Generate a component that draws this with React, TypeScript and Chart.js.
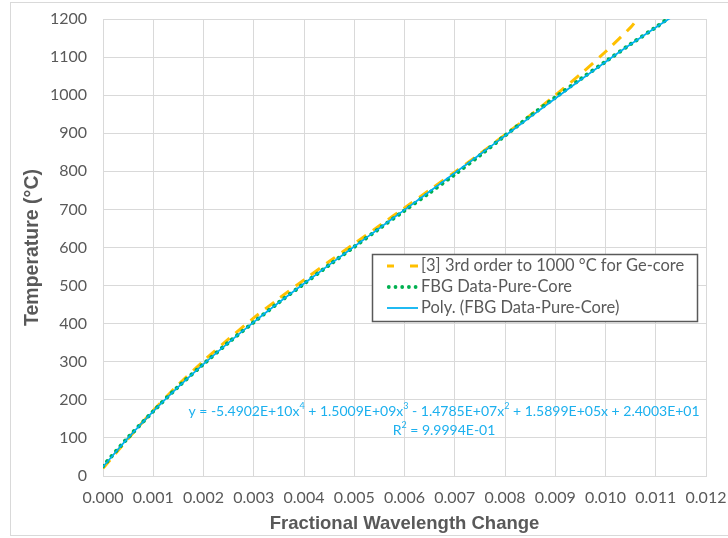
import React, { useEffect, useRef } from "react";
import { Chart, registerables } from "chart.js";

Chart.register(...registerables);

// ---------- data ----------
const SERIES_NAMES = [
  "[3] 3rd order to 1000 °C for Ge-core",
  "FBG Data-Pure-Core",
  "Poly. (FBG Data-Pure-Core)",
];

const GE_X = [0, 0.0005, 0.001, 0.0015, 0.002, 0.0025, 0.003, 0.0035, 0.004, 0.0045, 0.005, 0.0055, 0.006, 0.0065, 0.007, 0.0075, 0.008, 0.0085, 0.009, 0.0095, 0.01, 0.0105, 0.0106];
const GE_Y = [20, 98, 172, 240, 302, 360, 415, 466, 515, 563, 610, 657, 704, 751, 798, 846, 896, 947, 1000, 1055, 1114, 1178, 1194];

const FBG_X = [0, 0.0005, 0.001, 0.0015, 0.002, 0.0025, 0.003, 0.0035, 0.004, 0.0045, 0.005, 0.0055, 0.006, 0.0065, 0.007, 0.0075, 0.008, 0.0085, 0.009, 0.0095, 0.01, 0.0105, 0.011, 0.0112];
const FBG_Y = [26, 101, 170, 235, 294, 351, 404, 456, 505, 554, 602, 650, 697, 744, 792, 842, 894, 945, 994, 1042, 1088, 1134, 1178, 1197];

const POLY_X = [0, 0.0005, 0.001, 0.0015, 0.002, 0.0025, 0.003, 0.0035, 0.004, 0.0045, 0.005, 0.0055, 0.006, 0.0065, 0.007, 0.0075, 0.008, 0.0085, 0.009, 0.0095, 0.01, 0.0105, 0.011, 0.0113];
const POLY_Y = [24.0, 100.0, 169.7, 234.0, 294.0, 350.4, 404.0, 455.5, 505.4, 554.3, 602.6, 650.7, 698.7, 747.0, 795.5, 844.3, 893.3, 942.4, 991.3, 1039.7, 1087.3, 1133.5, 1177.8, 1203.2];

const X_TICKS = [0, 0.001, 0.002, 0.003, 0.004, 0.005, 0.006, 0.007, 0.008, 0.009, 0.01, 0.011, 0.012];
const Y_TICKS = [0, 100, 200, 300, 400, 500, 600, 700, 800, 900, 1000, 1100, 1200];

const X_TITLE = "Fractional Wavelength Change";
const Y_TITLE = "Temperature (°C)";

// equation segments: [text, isSuperscript]
const EQUATION_LINE1: [string, boolean][] = [
  ["y = -5.4902E+10x", false],
  ["4", true],
  [" + 1.5009E+09x", false],
  ["3", true],
  [" - 1.4785E+07x", false],
  ["2", true],
  [" + 1.5899E+05x + 2.4003E+01", false],
];
const EQUATION_LINE2: [string, boolean][] = [
  ["R", false],
  ["2", true],
  [" = 9.9994E-01", false],
];

// ---------- styles ----------
const ORANGE = "#FFC000";
const GREEN = "#00B050";
const BLUE = "#00B0F0";
const EQ_COLOR = "#1CB0EE";
const TEXT = "#595959";
const GRID = "#D9D9D9";
const BASE_FONT = "Lato, 'Open Sans', sans-serif";
const TITLE_FONT = "'Liberation Sans', Arial, sans-serif";

function drawRich(ctx: CanvasRenderingContext2D, segs: [string, boolean][], cx: number, cy: number, size: number, color: string) {
  const base = `${size}px ${BASE_FONT}`;
  const sup = `${Math.round(size * 0.65)}px ${BASE_FONT}`;
  let w = 0;
  for (const [t, s] of segs) {
    ctx.font = s ? sup : base;
    w += ctx.measureText(t).width;
  }
  let x = cx - w / 2;
  ctx.fillStyle = color;
  ctx.textBaseline = "middle";
  ctx.textAlign = "left";
  for (const [t, s] of segs) {
    ctx.font = s ? sup : base;
    ctx.fillText(t, x, s ? cy - size * 0.33 : cy);
    x += ctx.measureText(t).width;
  }
}

const overlayPlugin = {
  id: "overlay",
  afterDraw(chart: any) {
    const ctx: CanvasRenderingContext2D = chart.ctx;
    ctx.save();
    // trendline equation
    drawRich(ctx, EQUATION_LINE1, 444, 411, 14, EQ_COLOR);
    drawRich(ctx, EQUATION_LINE2, 444, 430, 14, EQ_COLOR);

    // legend box
    const bx = 372, by = 254, bw = 325, bh = 67;
    ctx.fillStyle = "#FFFFFF";
    ctx.fillRect(bx, by, bw, bh);
    ctx.strokeStyle = "#595959";
    ctx.lineWidth = 1.5;
    ctx.strokeRect(bx + 0.5, by + 0.5, bw, bh);

    const rows = [266, 287, 308];
    const sx0 = 387, sx1 = 418;
    // orange dashes
    ctx.strokeStyle = ORANGE;
    ctx.lineWidth = 3;
    ctx.lineCap = "butt";
    ctx.beginPath();
    ctx.moveTo(sx0, rows[0]); ctx.lineTo(sx0 + 7, rows[0]);
    ctx.moveTo(sx0 + 23, rows[0]); ctx.lineTo(sx1, rows[0]);
    ctx.stroke();
    // green dots
    ctx.fillStyle = GREEN;
    for (let i = 0; i < 5; i++) {
      ctx.beginPath();
      ctx.arc(sx0 + 1.8 + i * 6.7, rows[1], 1.9, 0, Math.PI * 2);
      ctx.fill();
    }
    // blue line
    ctx.strokeStyle = BLUE;
    ctx.lineWidth = 1.75;
    ctx.beginPath();
    ctx.moveTo(sx0, rows[2]); ctx.lineTo(sx1, rows[2]);
    ctx.stroke();

    ctx.fillStyle = TEXT;
    ctx.font = `16.5px ${BASE_FONT}`;
    ctx.textBaseline = "middle";
    ctx.textAlign = "left";
    SERIES_NAMES.forEach((n, i) => ctx.fillText(n, 421, rows[i]));
    ctx.restore();
  },
};

export default function App() {
  const ref = useRef<HTMLCanvasElement>(null);
  useEffect(() => {
    document.body.style.margin = "0";
    const chart = new Chart(ref.current as HTMLCanvasElement, {
      type: "scatter",
      data: {
        datasets: [
          {
            label: SERIES_NAMES[0],
            data: GE_X.map((x, i) => ({ x, y: GE_Y[i] })),
            showLine: true,
            borderColor: ORANGE,
            borderWidth: 3,
            borderDash: [11, 8],
            pointRadius: 0,
            tension: 0.3,
            order: 3,
          },
          {
            label: SERIES_NAMES[1],
            data: FBG_X.map((x, i) => ({ x, y: FBG_Y[i] })),
            showLine: true,
            borderColor: GREEN,
            borderWidth: 4.2,
            borderDash: [0.01, 6.7],
            borderCapStyle: "round",
            pointRadius: 0,
            tension: 0.3,
            order: 2,
          },
          {
            label: SERIES_NAMES[2],
            data: POLY_X.map((x, i) => ({ x, y: POLY_Y[i] })),
            showLine: true,
            borderColor: BLUE,
            borderWidth: 1.75,
            pointRadius: 0,
            tension: 0.3,
            order: 1,
          },
        ],
      } as any,
      options: {
        responsive: false,
        animation: false,
        devicePixelRatio: 1,
        layout: { padding: { top: 19, right: 22, bottom: 0, left: 0 } },
        plugins: { legend: { display: false }, tooltip: { enabled: false } },
        scales: {
          x: {
            type: "linear",
            min: 0,
            max: 0.012,
            afterBuildTicks: (s: any) => { s.ticks = X_TICKS.map((v) => ({ value: v })); },
            afterFit: (s: any) => { s.height = 62; s.paddingLeft = 0; s.paddingRight = 0; },
            ticks: {
              callback: (v: any) => Number(v).toFixed(3),
              color: TEXT,
              font: { family: BASE_FONT, size: 16 },
              padding: 12,
              maxRotation: 0,
              autoSkip: false,
            },
            grid: { color: GRID, drawTicks: false, lineWidth: 1 },
            border: { color: GRID },
            title: {
              display: true,
              text: X_TITLE,
              color: TEXT,
              font: { family: TITLE_FONT, size: 18.5, weight: "bold" },
              padding: { top: 0, bottom: 3 },
            },
          },
          y: {
            type: "linear",
            min: 0,
            max: 1200,
            afterBuildTicks: (s: any) => { s.ticks = Y_TICKS.map((v) => ({ value: v })); },
            afterFit: (s: any) => { s.width = 103; s.paddingTop = 0; s.paddingBottom = 0; },
            ticks: {
              callback: (v: any) => String(v),
              color: TEXT,
              font: { family: BASE_FONT, size: 16 },
              padding: 16,
              autoSkip: false,
            },
            grid: { color: GRID, drawTicks: false, lineWidth: 1 },
            border: { color: GRID },
            title: {
              display: true,
              text: Y_TITLE,
              color: TEXT,
              font: { family: TITLE_FONT, size: 19.5, weight: "bold" },
              padding: { top: 21, bottom: 0 },
            },
          },
        },
      } as any,
      plugins: [overlayPlugin],
    });
    return () => chart.destroy();
  }, []);

  return (
    <div style={{ position: "relative", width: 728, height: 538, overflow: "hidden", background: "#FFFFFF" }}>
      <canvas ref={ref} width={728} height={538} style={{ display: "block" }} />
      <div
        style={{
          position: "absolute",
          left: 10,
          top: 2,
          width: 740,
          height: 534,
          border: `1px solid ${GRID}`,
          boxSizing: "border-box",
          pointerEvents: "none",
        }}
      />
    </div>
  );
}
